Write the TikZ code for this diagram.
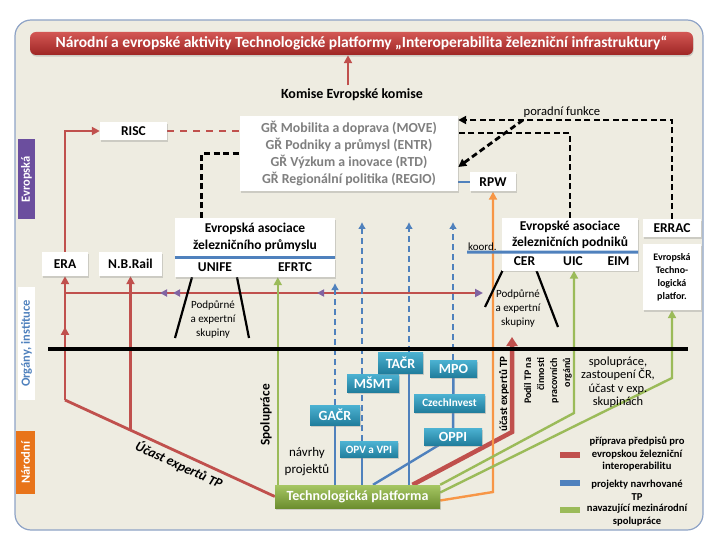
\documentclass[tikz,border=0pt]{standalone}
\usepackage{fontspec}
\setmainfont{Carlito}
\usetikzlibrary{arrows.meta,shadows,decorations.markings}

\definecolor{tpbg}{HTML}{EEECE1}
\definecolor{tpframe}{HTML}{8EA3C6}
\definecolor{tpred}{HTML}{C0504D}
\definecolor{tpredtop}{HTML}{D35754}
\definecolor{tpredbot}{HTML}{9E2624}
\definecolor{tpblue}{HTML}{4F81BD}
\definecolor{tpgreen}{HTML}{9BBB59}
\definecolor{tporange}{HTML}{F79646}
\definecolor{tppurple}{HTML}{8064A2}
\definecolor{tealtop}{HTML}{4CB2D2}
\definecolor{tealbot}{HTML}{217E9D}
\definecolor{tpgtop}{HTML}{A6C663}
\definecolor{tpgbot}{HTML}{6C8E2F}
\definecolor{grtext}{HTML}{7F7F7F}
\definecolor{eupurple}{HTML}{6B4E9E}
\definecolor{narorange}{HTML}{E8741A}

\pgfdeclarelayer{back}
\pgfdeclarelayer{lines}
\pgfsetlayers{back,lines,main}

\tikzset{
  shd/.style={drop shadow={shadow xshift=0.6pt,shadow yshift=-1.6pt,opacity=0.3}},
  wbox/.style={fill=white, inner sep=1pt, align=center, shd, font=\bfseries\fontsize{13.5}{17}\selectfont},
  tealbox/.style={top color=tealtop, bottom color=tealbot, text=white, inner sep=1pt, shd, font=\bfseries\fontsize{14}{16}\selectfont},
  sidelbl/.style={rotate=90, inner sep=1pt, font=\bfseries\fontsize{12.5}{14}\selectfont},
  txt/.style={inner sep=1pt, align=center, font=\fontsize{11}{14}\selectfont},
  lgd/.style={inner sep=1pt, align=center, font=\bfseries\fontsize{10.6}{12.8}\selectfont},
  redl/.style={draw=tpred, line width=2.8pt},
  redarr/.style={redl, -{Triangle[length=8pt,width=8pt]}},
  reddash/.style={redl, dash pattern=on 7pt off 6pt},
  redthick/.style={draw=tpred, line width=4.5pt, -{Triangle[length=9pt,width=11pt]}},
  blu/.style={draw=tpblue, line width=2.4pt},
  bludash/.style={blu, dash pattern=on 6pt off 4pt, -{Latex[length=7pt,width=8pt]}},
  grnarr/.style={draw=tpgreen, line width=2.4pt, -{Triangle[length=8pt,width=8pt]}},
  orarr/.style={draw=tporange, line width=2.4pt, -{Triangle[length=8pt,width=8pt]}},
  blkdash/.style={draw=black, line width=2.8pt, dash pattern=on 6pt off 3.5pt},
  podl/.style={draw=black, line width=2.2pt},
  midarr/.style={postaction={decorate,decoration={markings,
    mark=at position 0.59 with {\arrow{Triangle[length=8pt,width=8pt]}}}}},
  purpmarks/.style={postaction={decorate,decoration={markings,
    mark=at position 95pt with {\arrowreversed{Triangle[length=7pt,width=7pt,color=tppurple]}},
    mark=at position 108pt with {\arrowreversed{Triangle[length=7pt,width=7pt,color=tppurple]}},
    mark=at position 252pt with {\arrowreversed{Triangle[length=7pt,width=7pt,color=tppurple]}}}}}
}

\begin{document}
\begin{tikzpicture}[x=1pt,y=-1pt]
\useasboundingbox (0,0) rectangle (720,540);
\begin{pgfonlayer}{back}
\draw[tpframe, line width=1.2pt, fill=tpbg, rounded corners=16] (15,20) rectangle (703,530);
\end{pgfonlayer}

\node[top color=tpredtop, bottom color=tpredbot, rounded corners=6, shd, text=white, inner sep=0,
  font=\bfseries\fontsize{15.5}{18}\selectfont, minimum width=663, minimum height=23] (title) at (361.5,43.5)
  {Národní a evropské aktivity Technologické platformy „Interoperabilita železniční infrastruktury“};
\node[font=\bfseries\fontsize{14}{16}\selectfont] (komise) at (352,95) {Komise Evropské komise};

\node[wbox, text=grtext, font=\bfseries\fontsize{13.8}{17.3}\selectfont, minimum width=218, minimum height=75] (gr) at (349,153.5)
  {GŘ Mobilita a doprava (MOVE)\\GŘ Podniky a průmysl (ENTR)\\GŘ Výzkum a inovace (RTD)\\GŘ Regionální politika (REGIO)};
\node[wbox, minimum width=67, minimum height=18] (risc) at (133.5,131) {RISC};
\node[wbox, minimum width=46, minimum height=19] (rpw) at (493,182) {RPW};
\node[wbox, minimum width=46, minimum height=24] (era) at (65,264) {ERA};
\node[wbox, minimum width=63, minimum height=24] (nbrail) at (130.5,264) {N.B.Rail};
\node[wbox, minimum width=160, minimum height=39] (prum) at (255,237.5) {Evropská asociace\\železničního průmyslu};
\node[wbox, minimum width=80, minimum height=19] (unife) at (215,267.5) {UNIFE};
\node[wbox, minimum width=80, minimum height=19] (efrtc) at (295,267.5) {EFRTC};
\node[wbox, font=\bfseries\fontsize{13.5}{15.5}\selectfont, minimum width=136, minimum height=34] (podn) at (570,235) {Evropské asociace\\železničních podniků};
\node[wbox, minimum width=45, minimum height=18] (cer) at (524.5,261.5) {CER};
\node[wbox, minimum width=52, minimum height=18] (uic) at (573,261.5) {UIC};
\node[wbox, minimum width=39, minimum height=18] (eim) at (618.5,261.5) {EIM};
\node[wbox, minimum width=58, minimum height=18] (errac) at (672,228) {ERRAC};
\node[wbox, font=\bfseries\fontsize{10}{13}\selectfont, minimum width=58, minimum height=66] (etp) at (672,277) {Evropská\\Techno-\\logická\\platfor.};

\coordinate (koord) at (467,252);
\draw[tpblue, line width=3pt] (prum.south west) -- (prum.south east);
\draw[tpblue, line width=3pt] (koord) -- (podn.south east);
\node[txt, anchor=south west] (koordt) at (koord) {koord.};

\node[tealbox, minimum width=50, minimum height=20] (gacr) at (335,415) {GAČR};
\node[tealbox, minimum width=52, minimum height=18] (msmt) at (373,383) {MŠMT};
\node[tealbox, minimum width=45, minimum height=21] (tacr) at (400.5,362.5) {TAČR};
\node[tealbox, minimum width=47, minimum height=17] (mpo) at (453.5,368.5) {MPO};
\node[tealbox, font=\bfseries\fontsize{11.2}{13}\selectfont, minimum width=71, minimum height=18] (czi) at (449.5,403) {CzechInvest};
\node[tealbox, font=\bfseries\fontsize{11.2}{13}\selectfont, minimum width=58, minimum height=16] (opv) at (369,449.5) {OPV a VPI};
\node[tealbox, minimum width=58, minimum height=17] (oppi) at (453,436.5) {OPPI};
\node[top color=tpgtop, bottom color=tpgbot, text=white, shd, inner sep=1pt, font=\bfseries\fontsize{14}{16}\selectfont,
  minimum width=165, minimum height=23] (tp) at (357.5,496.5) {Technologická platforma};

\node[sidelbl, fill=eupurple, text=white, minimum width=80, minimum height=17] (levr) at (26.5,179.5) {Evropská};
\node[sidelbl, fill=white, text=tpblue, minimum width=113, minimum height=17] (lorg) at (26.5,343.5) {Orgány, instituce};
\node[sidelbl, fill=narorange, text=white, minimum width=63, minimum height=19] (lnar) at (25.5,462.5) {Národní};

\node[txt] (podp1) at (213,319) {Podpůrné\\a expertní\\skupiny};
\node[txt] (podp2) at (518,308) {Podpůrné\\a expertní\\skupiny};
\node[txt, font=\fontsize{12.6}{14}\selectfont] (porad) at (562,112) {poradní funkce};
\node[txt, font=\fontsize{13}{17}\selectfont] (navrhy) at (307,461.5) {návrhy\\projektů};
\node[txt, font=\fontsize{12.4}{13.5}\selectfont] (zast) at (618,382) {spolupráce,\\zastoupení ČR,\\účast v exp.\\skupinách};
\node[sidelbl, font=\bfseries\fontsize{13.3}{15}\selectfont] (spol) at (266,415) {Spolupráce};
\node[sidelbl, font=\bfseries\fontsize{11}{13}\selectfont] (ucast2) at (504,394) {účast expertů TP};
\node[sidelbl, align=right, font=\bfseries\fontsize{10}{13}\selectfont] (podil) at (548,381) {Podíl TP na\\činnosti\\pracovních\\orgánů};
\node[rotate=-24.7, inner sep=1pt, font=\bfseries\itshape\fontsize{13.5}{15}\selectfont] (ucast1) at (179,465) {Účast expertů TP};

\fill[tpred] (560,452) rectangle (580,458);
\node[lgd] (lg1) at (637,454) {příprava předpisů pro\\evropskou železniční\\interoperabilitu};
\fill[tpblue] (560,480) rectangle (580,486);
\node[lgd] (lg2) at (637,490) {projekty navrhované\\TP};
\fill[tpgreen] (560,507) rectangle (580,513);
\node[lgd] (lg3) at (637,515) {navazující mezinárodní\\spolupráce};

\begin{pgfonlayer}{lines}
\coordinate (kink) at (65,400);
\coordinate (nbfoot) at (130.5,430);
\coordinate (hl) at (65,293);
\coordinate (hr) at (483,293);
\coordinate (rk) at (512,432);
\coordinate (rt) at (512,337);
\coordinate (ok) at (493,492);
\coordinate (gk1) at (574,413);
\coordinate (gk2) at (672,378);
\coordinate (b1) at (335,283);
\coordinate (b2) at (362,222);
\coordinate (b3) at (409,222);
\coordinate (b4) at (453,222);
\coordinate (pfj) at (523,120);
\coordinate (p1) at (175,338);
\coordinate (p2) at (249,338);
\coordinate (p3) at (485,307);
\coordinate (p4) at (558,327);

\draw[redarr] ([xshift=-4]komise.north) -- ([xshift=-4]komise.north |- title.south);
\draw[redarr] (era.north) |- (risc.west);
\draw[reddash] (risc.east) -- (risc.east -| gr.west);
\draw[redl] (tp.west) -- (kink);
\draw[redarr, midarr] (kink) -- (era.south);
\draw[redarr] (nbfoot) -- (nbrail.south);
\draw[redl, -{Triangle[length=8pt,width=8pt,color=tppurple]}, purpmarks] (hl) -- (hr);
\draw[redthick] ([xshift=55]tp.north) -- (rk) -- (rt);

\draw[blu] (rpw.west) -- (rpw.west -| gr.east);
\draw[blu] (b1 |- tp.north) -- (b1 |- gacr.center);
\draw[bludash] (b1 |- gacr.north) -- (b1);
\draw[blu] (b2 |- tp.north) -- (b2 |- opv.south);
\draw[bludash, -] (b2 |- opv.north) -- (b2 |- msmt.south);
\draw[bludash] (b2 |- msmt.north) -- (b2);
\draw[blu] (b3 |- tp.north) -- (b3 |- tacr.south);
\draw[bludash] (b3 |- tacr.north) -- (b3);
\draw[blu] (oppi) -- (mpo);
\draw[bludash] (b4 |- mpo.north) -- (b4);
\draw[blu] ([xshift=15.5]tp.north) -- (oppi);

\draw[orarr] ([yshift=-4]tp.east) -- (ok) -- (rpw.south);
\draw[grnarr] ([xshift=3]tp.north west) -- ([xshift=3]tp.north west |- efrtc.south);
\draw[grnarr] (tp.north east) -- (gk1) -- (gk1 |- uic.south);
\draw[grnarr] ([yshift=4]tp.east) -- (gk2) -- (etp.south);

\draw[blkdash] ([xshift=27]prum.north west) |- (gr.west);
\draw[blkdash] (podn.north) |- ([yshift=20.5]gr.east);
\draw[blkdash, -{Triangle[length=8pt,width=8pt]}] (errac.north) |- ([yshift=33.5]gr.east);
\draw[blkdash, -{Triangle[length=8pt,width=8pt]}] (pfj) -- ([yshift=-13.5]gr.east);

\draw[podl] ([xshift=-23]unife.south) -- (p1);
\draw[podl] ([xshift=22]unife.south) -- (p2);
\draw[podl] ([xshift=-22]cer.south) -- (p3);
\draw[podl] ([xshift=12]cer.south) -- (p4);
\draw[black, line width=4.5pt] (48,349) -- (688,349);
\end{pgfonlayer}
\end{tikzpicture}
\end{document}
